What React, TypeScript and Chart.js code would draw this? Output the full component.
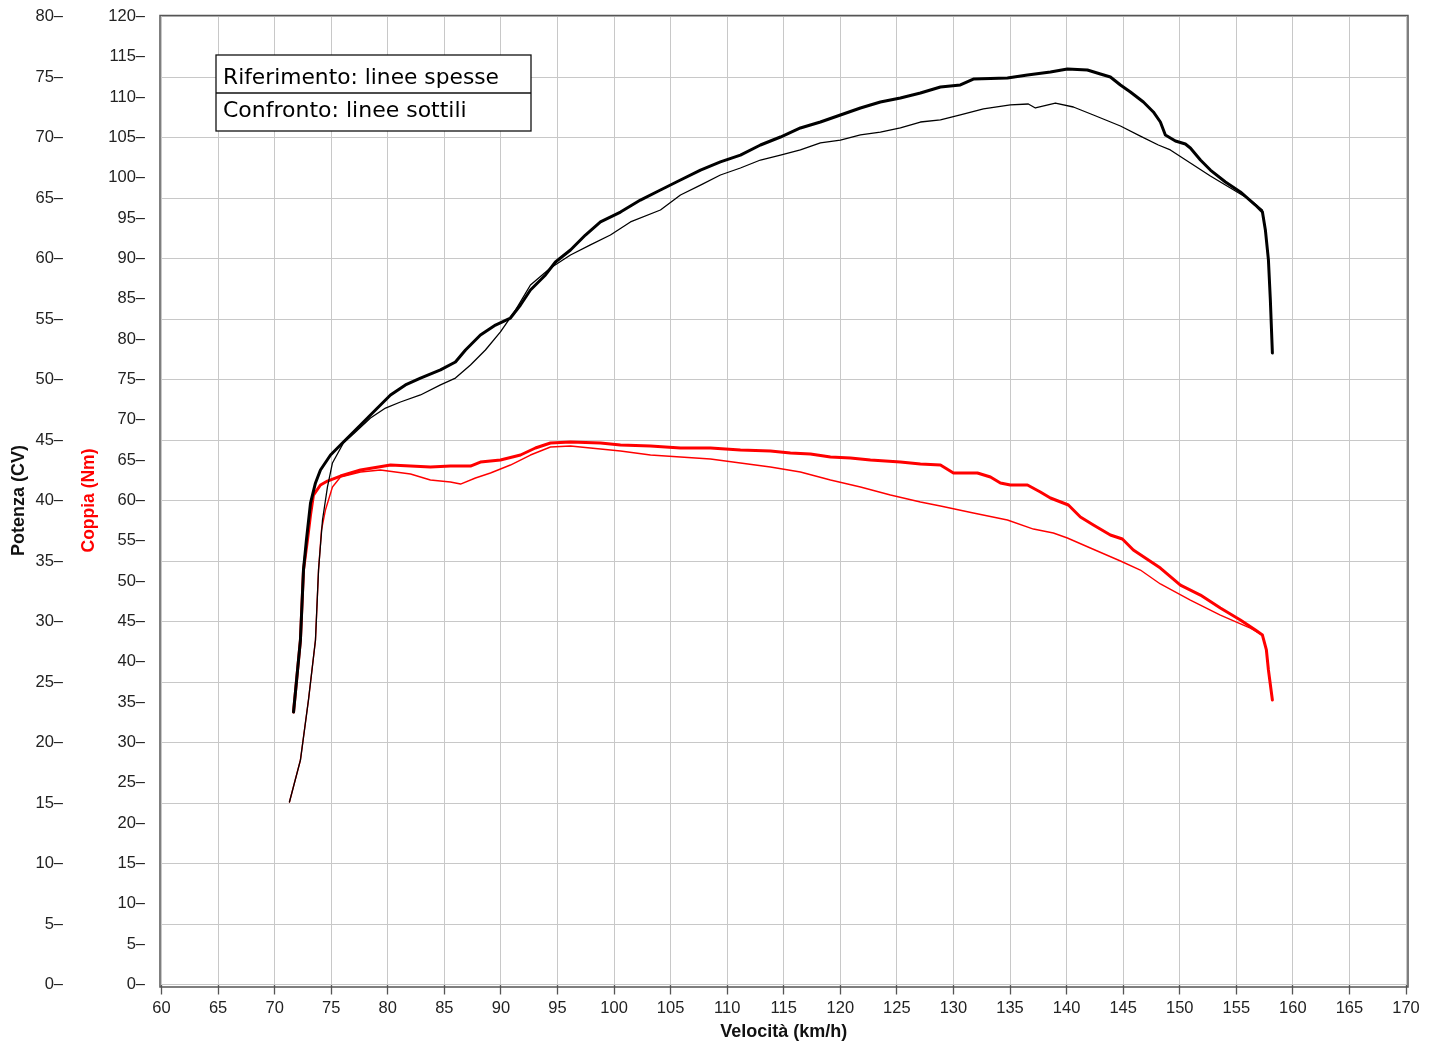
import React, { useEffect, useRef } from 'react';
import { Chart, registerables } from 'chart.js';

Chart.register(...registerables);

// Reference run (thick lines): power, km/h -> CV
const refPowerSpeed = [71.67, 72.28, 72.55, 72.81, 73.17, 73.61, 74.05, 74.94, 76.08, 77.59, 78.91, 80.24, 81.56, 82.89, 84.66, 85.98, 86.87, 88.19, 89.52, 90.84, 91.73, 92.61, 93.94, 94.82, 96.15, 97.47, 98.8, 100.57, 102.33, 104.1, 105.87, 107.64, 109.4, 111.17, 112.94, 114.71, 116.47, 118.24, 120.01, 121.78, 123.54, 125.31, 127.08, 128.85, 130.61, 131.76, 134.77, 136.54, 138.57, 140.07, 141.84, 142.99, 143.87, 144.76, 145.64, 146.79, 147.67, 148.29, 148.73, 149.62, 150.5, 150.94, 151.83, 152.71, 154.04, 155.36, 156.69, 157.31, 157.57, 157.84, 158.01, 158.19];
const refPowerCV = [22.52, 28.47, 34.26, 36.74, 39.79, 41.45, 42.52, 43.76, 44.83, 46.24, 47.48, 48.72, 49.55, 50.12, 50.79, 51.45, 52.44, 53.68, 54.5, 55.08, 56.16, 57.4, 58.64, 59.71, 60.7, 61.94, 63.02, 63.84, 64.83, 65.66, 66.49, 67.31, 67.98, 68.55, 69.38, 70.04, 70.79, 71.28, 71.86, 72.44, 72.93, 73.26, 73.68, 74.17, 74.34, 74.83, 74.92, 75.17, 75.41, 75.66, 75.58, 75.25, 75.0, 74.34, 73.76, 72.93, 72.11, 71.28, 70.21, 69.71, 69.46, 69.13, 68.14, 67.31, 66.32, 65.5, 64.42, 63.84, 62.36, 59.88, 56.57, 52.19];

// Comparison run (thin lines): power
const cmpPowerSpeed = [71.31, 72.28, 72.99, 73.61, 73.88, 74.23, 74.67, 75.11, 76.08, 77.15, 78.47, 79.8, 81.12, 82.89, 84.66, 85.98, 87.31, 88.63, 89.96, 91.29, 92.61, 94.38, 96.15, 97.91, 99.68, 101.45, 104.1, 105.87, 107.64, 109.4, 111.17, 112.94, 114.71, 116.47, 118.24, 120.01, 121.78, 123.54, 125.31, 127.08, 128.85, 130.61, 132.65, 135.03, 136.62, 137.24, 139.01, 140.6, 142.37, 144.76, 146.52, 148.11, 149.17, 150.94, 152.71, 154.48, 156.24, 157.31, 157.57, 157.84, 158.01, 158.19];
const cmpPowerCV = [15.08, 18.55, 23.51, 28.47, 34.26, 38.39, 41.12, 43.1, 44.75, 45.66, 46.82, 47.64, 48.14, 48.72, 49.55, 50.12, 51.2, 52.44, 53.93, 55.74, 57.81, 59.21, 60.29, 61.12, 61.94, 63.02, 64.01, 65.25, 66.07, 66.9, 67.48, 68.14, 68.55, 68.97, 69.55, 69.79, 70.21, 70.45, 70.79, 71.28, 71.45, 71.86, 72.36, 72.69, 72.77, 72.44, 72.85, 72.52, 71.86, 70.95, 70.12, 69.38, 68.97, 67.89, 66.82, 65.83, 64.83, 64.01, 62.36, 59.88, 56.57, 52.19];

// Reference run (thick lines): torque, km/h -> Nm
const refTorqueSpeed = [71.67, 72.28, 72.55, 72.9, 73.17, 73.43, 74.05, 74.67, 75.82, 77.59, 80.24, 82.01, 83.77, 85.54, 87.31, 88.19, 89.96, 91.73, 93.05, 94.38, 96.15, 98.8, 100.57, 103.22, 105.87, 108.52, 111.17, 113.82, 115.59, 117.36, 119.13, 120.89, 122.66, 125.31, 127.08, 128.85, 130.0, 132.12, 133.27, 134.15, 135.03, 136.54, 137.68, 138.57, 140.16, 141.22, 142.37, 143.87, 144.93, 145.9, 148.29, 150.06, 151.83, 153.59, 155.36, 156.69, 157.31, 157.66, 157.84, 158.19];
const refTorqueNm = [33.78, 42.7, 51.38, 55.1, 58.2, 60.68, 61.92, 62.41, 63.03, 63.78, 64.4, 64.27, 64.15, 64.27, 64.27, 64.77, 65.02, 65.64, 66.51, 67.13, 67.25, 67.13, 66.88, 66.75, 66.51, 66.51, 66.26, 66.13, 65.89, 65.76, 65.39, 65.27, 65.02, 64.77, 64.52, 64.4, 63.41, 63.41, 62.91, 62.17, 61.92, 61.92, 61.05, 60.31, 59.44, 57.95, 56.96, 55.72, 55.23, 53.86, 51.63, 49.52, 48.28, 46.67, 45.18, 43.94, 43.32, 41.47, 38.99, 35.27];

// Comparison run (thin lines): torque
const cmpTorqueSpeed = [71.31, 72.28, 72.99, 73.61, 73.88, 74.14, 74.49, 75.11, 75.82, 77.59, 79.35, 80.68, 82.01, 83.77, 85.54, 86.43, 87.75, 89.08, 90.84, 92.61, 94.38, 96.15, 97.91, 100.57, 103.22, 105.87, 108.52, 111.17, 113.82, 116.47, 119.13, 121.78, 124.43, 127.08, 128.85, 131.76, 134.77, 137.07, 138.83, 140.07, 142.1, 144.76, 146.52, 148.29, 150.94, 153.59, 156.24, 157.31, 157.66, 157.84, 158.19];
const cmpTorqueNm = [22.62, 27.83, 35.27, 42.7, 51.38, 56.34, 58.82, 61.67, 62.91, 63.53, 63.78, 63.53, 63.28, 62.54, 62.29, 62.04, 62.79, 63.41, 64.4, 65.64, 66.63, 66.75, 66.51, 66.13, 65.64, 65.39, 65.14, 64.65, 64.15, 63.53, 62.54, 61.67, 60.68, 59.81, 59.32, 58.45, 57.58, 56.46, 55.97, 55.35, 54.11, 52.5, 51.38, 49.65, 47.66, 45.8, 44.19, 43.32, 41.47, 38.99, 35.27];

const legendLines = ['Riferimento: linee spesse', 'Confronto: linee sottili'];
const xTitle = 'Velocità (km/h)';
const cvTitle = 'Potenza (CV)';
const nmTitle = 'Coppia (Nm)';

const FONT = '"Liberation Sans", Arial, sans-serif';

export default function App() {
  const ref = useRef<HTMLCanvasElement>(null);

  useEffect(() => {
    const canvas = ref.current;
    if (!canvas) return;
    const pts = (xs: number[], ys: number[]) => xs.map((x, i) => ({ x, y: ys[i] }));

    const framePlugin = {
      id: 'frameAndBox',
      afterDraw(chart: any) {
        const { ctx, chartArea: a } = chart;
        ctx.save();
        ctx.strokeStyle = '#555';
        ctx.lineWidth = 1.5;
        ctx.strokeRect(a.left - 1.5, a.top - 1, a.right - a.left + 3.5, a.bottom - a.top + 3.5);
        const bx = a.left + 54.5;
        const by = a.top + 38.5;
        const bw = 315;
        const bh = 76;
        ctx.fillStyle = '#fff';
        ctx.fillRect(bx, by, bw, bh);
        ctx.strokeStyle = '#111';
        ctx.lineWidth = 1.3;
        ctx.strokeRect(bx, by, bw, bh);
        ctx.beginPath();
        ctx.moveTo(bx, by + 38);
        ctx.lineTo(bx + bw, by + 38);
        ctx.stroke();
        ctx.fillStyle = '#000';
        ctx.font = '22px "DejaVu Sans"';
        ctx.textBaseline = 'alphabetic';
        ctx.textAlign = 'left';
        ctx.fillText(legendLines[0], bx + 7, by + 29, 276);
        ctx.fillText(legendLines[1], bx + 7, by + 62);
        ctx.restore();
      },
    };

    const fitY = (w: number) => (s: any) => {
      s.width = w;
      s.paddingTop = 0;
      s.paddingBottom = 0;
    };

    const chart = new Chart(canvas, {
      type: 'line',
      data: {
        datasets: [
          { label: 'ref CV', data: pts(refPowerSpeed, refPowerCV), yAxisID: 'yCV', borderColor: '#000', borderWidth: 3 },
          { label: 'cmp CV', data: pts(cmpPowerSpeed, cmpPowerCV), yAxisID: 'yCV', borderColor: '#000', borderWidth: 1.3 },
          { label: 'ref Nm', data: pts(refTorqueSpeed, refTorqueNm), yAxisID: 'yNm', borderColor: '#ff0000', borderWidth: 3 },
          { label: 'cmp Nm', data: pts(cmpTorqueSpeed, cmpTorqueNm), yAxisID: 'yNm', borderColor: '#ff0000', borderWidth: 1.4 },
        ] as any,
      },
      options: {
        animation: false,
        responsive: true,
        maintainAspectRatio: false,
        elements: {
          point: { radius: 0 },
          line: { tension: 0, borderJoinStyle: 'round', borderCapStyle: 'round', fill: false },
        },
        layout: { padding: { left: 0, right: 26, top: 16.5, bottom: 0 } },
        plugins: { legend: { display: false }, tooltip: { enabled: false } },
        scales: {
          x: {
            type: 'linear',
            position: 'bottom',
            min: 60,
            max: 170,
            ticks: { stepSize: 5, autoSkip: false, maxRotation: 0, padding: 4, color: '#222', font: { family: FONT, size: 16.5 } },
            grid: { color: '#c8c8c8', lineWidth: 1, drawTicks: true, tickLength: 10, tickColor: '#555', tickWidth: 1.3 },
            border: { display: false },
            title: { display: true, text: xTitle, color: '#111', font: { family: FONT, size: 18, weight: 'bold' }, padding: { top: 0, bottom: 3 } },
            afterFit(s: any) { s.height = 61.5; s.paddingLeft = 0; s.paddingRight = 0; },
          },
          yNm: {
            type: 'linear',
            position: 'left',
            weight: 1,
            min: 0,
            max: 120,
            ticks: { stepSize: 5, autoSkip: false, padding: 16.5, color: '#222', font: { family: FONT, size: 16.5 }, callback: (v: any) => Math.round(Number(v)) + '–' },
            grid: { display: false, drawTicks: false },
            border: { display: false },
            title: { display: true, text: nmTitle, color: '#ff0000', font: { family: FONT, size: 17.5, weight: 'bold' }, padding: { top: 2.5, bottom: 0 } },
            afterFit: fitY(85.5),
          },
          yCV: {
            type: 'linear',
            position: 'left',
            weight: 2,
            min: 0,
            max: 80,
            ticks: { stepSize: 5, autoSkip: false, padding: 13, color: '#222', font: { family: FONT, size: 16.5 }, callback: (v: any) => Math.round(Number(v)) + '–' },
            grid: { color: '#c8c8c8', lineWidth: 1, drawTicks: false },
            border: { display: false },
            title: { display: true, text: cvTitle, color: '#111', font: { family: FONT, size: 18, weight: 'bold' }, padding: { top: 8, bottom: 0 } },
            afterFit: fitY(76),
          },
        } as any,
      },
      plugins: [framePlugin],
    });

    return () => chart.destroy();
  }, []);

  return (
    <div style={{ position: 'absolute', left: 0, top: 0, width: 1432, height: 1046, background: '#fff' }}>
      <canvas ref={ref} />
    </div>
  );
}
